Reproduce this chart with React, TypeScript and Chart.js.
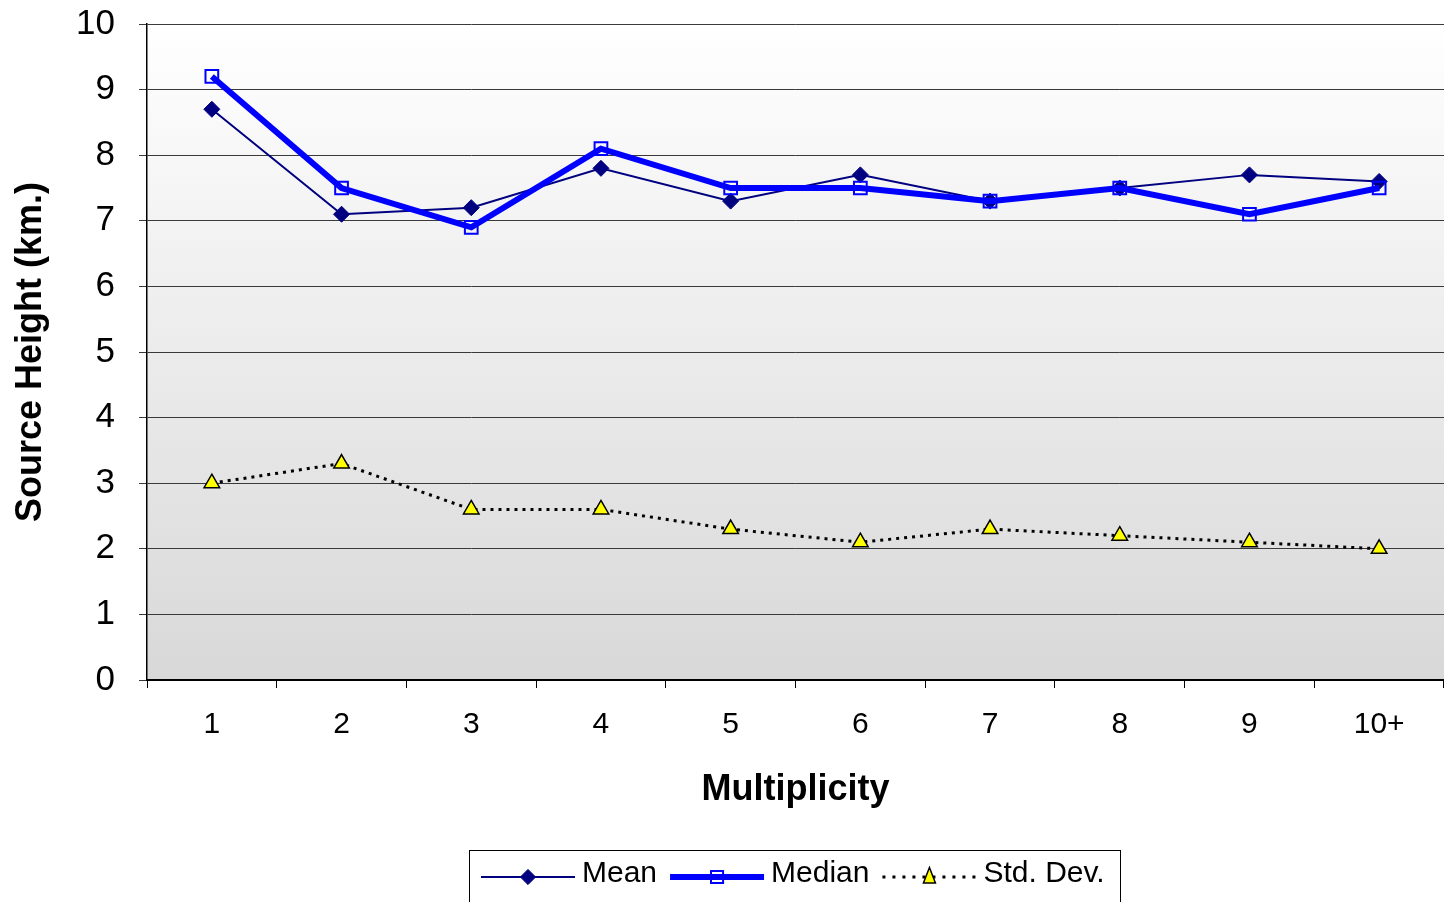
import React, { useEffect, useRef } from 'react';
import { Chart, registerables } from 'chart.js';

Chart.register(...registerables);

const categories = ['1', '2', '3', '4', '5', '6', '7', '8', '9', '10+'];
const meanValues = [8.7, 7.1, 7.2, 7.8, 7.3, 7.7, 7.3, 7.5, 7.7, 7.6];
const medianValues = [9.2, 7.5, 6.9, 8.1, 7.5, 7.5, 7.3, 7.5, 7.1, 7.5];
const stdDevValues = [3.0, 3.3, 2.6, 2.6, 2.3, 2.1, 2.3, 2.2, 2.1, 2.0];
const seriesLabels = ['Mean', 'Median', 'Std. Dev.'];
const yMin = 0;
const yMax = 10;
const yStep = 1;

const FONT = '"Liberation Sans", Arial, sans-serif';

const backgroundPlugin = {
  id: 'plotBackground',
  beforeDraw(chart: any) {
    const { ctx, chartArea } = chart;
    const { left, top, right, bottom } = chartArea;
    ctx.save();
    ctx.fillStyle = '#ffffff';
    ctx.fillRect(0, 0, chart.width, chart.height);
    const g = ctx.createLinearGradient(0, top, 0, bottom);
    g.addColorStop(0, '#ffffff');
    g.addColorStop(1, '#d8d8d8');
    ctx.fillStyle = g;
    ctx.fillRect(left, top, right - left, bottom - top);
    ctx.restore();
  },
};

function drawMarker(ctx: CanvasRenderingContext2D, style: string, x: number, y: number, r: number) {
  ctx.beginPath();
  if (style === 'rectRot') {
    ctx.moveTo(x, y - r);
    ctx.lineTo(x + r, y);
    ctx.lineTo(x, y + r);
    ctx.lineTo(x - r, y);
    ctx.closePath();
    ctx.fill();
    ctx.stroke();
  } else if (style === 'rect') {
    const s = r * Math.SQRT1_2;
    ctx.rect(x - s, y - s, 2 * s, 2 * s);
    ctx.stroke();
  } else {
    ctx.moveTo(x, y - r * 1.1);
    ctx.lineTo(x + r * 0.7, y + r * 0.7);
    ctx.lineTo(x - r * 0.7, y + r * 0.7);
    ctx.closePath();
    ctx.fill();
    ctx.stroke();
  }
}

const legendPlugin = {
  id: 'customLegend',
  afterDraw(chart: any) {
    const { ctx } = chart;
    const boxLeft = 469;
    const boxTop = 850;
    const boxWidth = 651;
    const cy = 877;
    ctx.save();
    ctx.strokeStyle = '#000000';
    ctx.lineWidth = 1;
    ctx.strokeRect(boxLeft + 0.5, boxTop + 0.5, boxWidth, 80);
    ctx.font = `30px ${FONT}`;
    ctx.textBaseline = 'middle';
    ctx.textAlign = 'left';
    let x = 481;
    const lineLen = 94;
    chart.data.datasets.forEach((ds: any, i: number) => {
      ctx.save();
      ctx.strokeStyle = ds.borderColor;
      ctx.lineWidth = ds.borderWidth;
      ctx.setLineDash(ds.legendDash || ds.borderDash || []);
      ctx.beginPath();
      ctx.moveTo(x, cy);
      ctx.lineTo(x + lineLen, cy);
      ctx.stroke();
      ctx.restore();
      ctx.save();
      ctx.fillStyle = ds.pointBackgroundColor;
      ctx.strokeStyle = ds.pointBorderColor;
      ctx.lineWidth = ds.pointBorderWidth;
      drawMarker(ctx, ds.pointStyle, x + lineLen / 2, cy, ds.pointRadius * 0.95);
      ctx.restore();
      ctx.fillStyle = '#000000';
      const tx = x + lineLen + 7;
      ctx.fillText(seriesLabels[i], tx, cy - 3);
      x = tx + ctx.measureText(seriesLabels[i]).width + 13;
    });
    ctx.restore();
  },
};

export default function App() {
  const canvasRef = useRef<HTMLCanvasElement | null>(null);

  useEffect(() => {
    if (!canvasRef.current) return;
    const chart = new Chart(canvasRef.current, {
      type: 'line',
      data: {
        labels: categories,
        datasets: [
          {
            label: seriesLabels[0],
            data: meanValues,
            borderColor: '#000080',
            backgroundColor: '#000080',
            borderWidth: 2,
            pointStyle: 'rectRot',
            pointRadius: 8,
            pointBackgroundColor: '#000080',
            pointBorderColor: '#000080',
            pointBorderWidth: 1,
            tension: 0,
            order: 3,
          },
          {
            label: seriesLabels[1],
            data: medianValues,
            borderColor: '#0000ff',
            backgroundColor: 'rgba(0,0,0,0)',
            borderWidth: 6,
            pointStyle: 'rect',
            pointRadius: 9,
            pointBackgroundColor: 'rgba(0,0,0,0)',
            pointBorderColor: '#0000ff',
            pointBorderWidth: 2,
            tension: 0,
            order: 2,
          },
          {
            label: seriesLabels[2],
            data: stdDevValues,
            borderColor: '#000000',
            backgroundColor: '#ffff00',
            borderWidth: 3,
            borderDash: [3, 5],
            legendDash: [3, 7],
            pointStyle: 'triangle',
            pointRadius: 9,
            pointBackgroundColor: '#ffff00',
            pointBorderColor: '#000000',
            pointBorderWidth: 1.5,
            tension: 0,
            order: 1,
          } as any,
        ],
      },
      options: {
        responsive: false,
        animation: false,
        layout: { autoPadding: false, padding: { left: 0, top: 24, right: 0, bottom: 82 } },
        plugins: {
          legend: { display: false },
          tooltip: { enabled: false },
        },
        scales: {
          x: {
            offset: true,
            grid: {
              offset: true,
              drawOnChartArea: false,
              drawTicks: true,
              tickLength: 8,
              color: '#000000',
              lineWidth: 1,
            },
            border: { display: true, color: '#000000', width: 2 },
            ticks: {
              color: '#000000',
              font: { family: FONT, size: 30 },
              padding: 19,
              maxRotation: 0,
              autoSkip: false,
            },
            title: {
              display: true,
              text: 'Multiplicity',
              color: '#000000',
              font: { family: FONT, size: 36, weight: 'bold' },
              padding: { top: 0, bottom: 8 },
            },
            afterFit(scale: any) {
              scale.height = 140;
              scale.paddingLeft = 0;
              scale.paddingRight = 0;
            },
          },
          y: {
            min: yMin,
            max: yMax,
            grid: {
              color: '#3a3a3a',
              lineWidth: 1,
              drawTicks: true,
              tickLength: 8,
            },
            border: { display: true, color: '#000000', width: 1.5 },
            ticks: {
              stepSize: yStep,
              color: '#000000',
              font: { family: FONT, size: 35 },
              padding: 24,
            },
            title: {
              display: true,
              text: 'Source Height (km.)',
              color: '#000000',
              font: { family: FONT, size: 36, weight: 'bold' },
              padding: { top: 9, bottom: 0 },
            },
            afterFit(scale: any) {
              scale.width = 147;
              scale.paddingTop = 0;
              scale.paddingBottom = 0;
            },
          },
        },
      },
      plugins: [backgroundPlugin, legendPlugin],
    });
    return () => chart.destroy();
  }, []);

  return (
    <div style={{ position: 'absolute', left: 0, top: 0, width: 1444, height: 902, background: '#ffffff' }}>
      <canvas ref={canvasRef} width={1444} height={902} style={{ display: 'block' }} />
    </div>
  );
}
